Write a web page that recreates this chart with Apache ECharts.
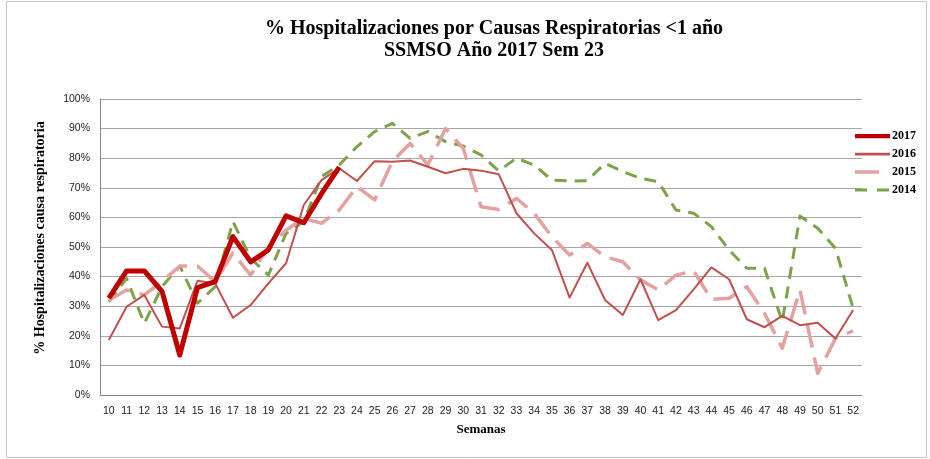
<!DOCTYPE html>
<html><head><meta charset="utf-8">
<script src="https://cdn.jsdelivr.net/npm/echarts@6/dist/echarts.min.js"></script>
<style>html,body{margin:0;padding:0;background:#fff}#c{width:930px;height:459px}</style>
</head><body><div id="c"></div>
<script>
const weeks = ['10','11','12','13','14','15','16','17','18','19','20','21','22','23','24','25','26','27','28','29','30','31','32','33','34','35','36','37','38','39','40','41','42','43','44','45','46','47','48','49','50','51','52'];
const s2017 = [32.7,41.9,41.9,35,13.5,36.3,38.3,53.5,45,49,60.5,58.2,68,77];
const s2016 = [18.6,29.8,33.8,23.1,22.5,38.6,37.7,26.1,30.4,37.7,44.5,64.2,72.6,76.6,72.3,79,78.8,79.2,77.1,74.9,76.4,75.8,74.6,61.4,54.6,49,32.9,44.7,32.1,27,39.1,25.3,28.7,35.7,43.1,39.1,25.6,22.9,26.7,23.6,24.4,19.1,28.7];
const s2015 = [32,35.5,33.8,38.3,43.6,43.6,38.3,48,40.5,50,55.7,59.7,58,62.5,70.4,65.9,79,85,77.7,90,83.3,63.6,62.7,66.4,61.4,53.5,47.3,51.2,46.7,45,38.9,35.5,40.5,41.9,32.3,32.7,36.6,27.6,15.8,35.5,7.3,19.1,21.7];
const s2014 = [31.5,39.4,24.2,36.6,43.6,31,36.6,58.6,46.2,40.5,54.6,58.6,73.8,77.7,83.9,89,91.8,86.7,89,85.6,84.1,81.1,75.7,80,77.7,72.6,72.3,72.4,78.3,75.5,73.2,72.1,62.5,61.4,56.9,49,42.8,42.8,24.8,60.5,56.3,49.6,29.3];
const yTicks = ['0%','10%','20%','30%','40%','50%','60%','70%','80%','90%','100%'];

const chart = echarts.init(document.getElementById('c'), null, {renderer:'canvas'});
const serifBold = {fontFamily:'Liberation Serif', fontWeight:'bold', color:'#000'};
const mk = (name, data, color, width, type, z) => ({
  name, type:'line', data, symbol:'none', showSymbol:false, z,
  lineStyle:{color, width, type, cap:'butt', join:'round'},
  itemStyle:{color}, animation:false
});
const anchor = 'M0,0h0.01v0.01h-0.01Z M34.99,11.99h0.01v0.01h-0.01Z ';
const icons = {
  '2017': 'path://' + anchor + 'M0,4h35v4.2h-35Z',
  '2016': 'path://' + anchor + 'M0,4.8h35v2.6h-35Z',
  '2015': 'path://' + anchor + 'M0,4.2h24v3.6h-24Z',
  '2014': 'path://' + anchor + 'M0,4.5h12v3h-12Z M22,4.5h12v3h-12Z'
};
chart.setOption({
  animation:false,
  graphic:[
    {type:'rect', shape:{x:6.5,y:1.5,width:920,height:456}, style:{fill:'none', stroke:'#c8c8c8', lineWidth:1}, silent:true},
    {type:'text', x:40, y:238, rotation:Math.PI/2, silent:true,
     style:{text:'% Hospitalizaciones causa respiratoria', font:'bold 14px "Liberation Serif"', fill:'#000', align:'center', verticalAlign:'middle'}}
  ],
  title:{
    text:'% Hospitalizaciones por Causas Respiratorias <1 año\nSSMSO Año 2017 Sem 23',
    left:489, textAlign:'center', top:13,
    textStyle:Object.assign({fontSize:20, lineHeight:22}, serifBold)
  },
  legend:{
    orient:'vertical', left:855, top:130, padding:0, itemWidth:35, itemHeight:12, itemGap:6,
    data:['2017','2016','2015','2014'].map(n=>({name:n, icon:icons[n]})),
    textStyle:Object.assign({fontSize:12, padding:[0,0,0,-3]}, serifBold)
  },
  grid:{left:100, right:68, top:99, bottom:64},
  xAxis:{
    type:'category', data:weeks, boundaryGap:true,
    name:'Semanas', nameLocation:'middle', nameGap:28,
    nameTextStyle:Object.assign({fontSize:13}, serifBold),
    axisLine:{lineStyle:{color:'#868686', width:1}},
    axisTick:{show:false},
    axisLabel:{interval:0, fontFamily:'Liberation Sans', fontSize:10.5, color:'#222', margin:11}
  },
  yAxis:{
    type:'value', min:0, max:100, interval:10,
    axisLine:{show:true, lineStyle:{color:'#868686', width:1}},
    axisTick:{show:false},
    splitLine:{lineStyle:{color:'#a6a6a6', width:1}},
    axisLabel:{fontFamily:'Liberation Sans', fontSize:10.5, color:'#222', margin:10,
      formatter:(v)=>yTicks[Math.round(v/10)]}
  },
  series:[
    mk('2014', s2014, '#7da34a', 3, [12,8], 2),
    mk('2015', s2015, '#e3a2a0', 3.5, [24,10], 3),
    mk('2016', s2016, '#c0504d', 2, 'solid', 4),
    mk('2017', s2017, '#c00000', 5, 'solid', 5)
  ]
});
</script></body></html>
